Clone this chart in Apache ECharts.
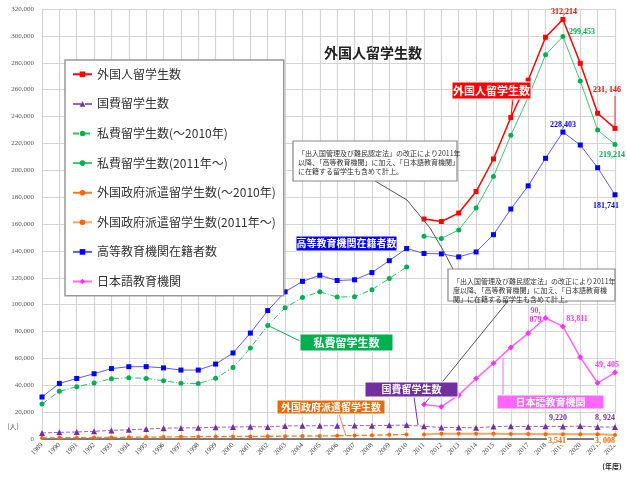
<!DOCTYPE html>
<html><head><meta charset="utf-8">
<script src="https://cdn.jsdelivr.net/npm/echarts@6/dist/echarts.min.js"></script>
<style>html,body{margin:0;padding:0;background:#fff}#c{width:627px;height:480px}</style>
</head><body><div id="c"></div>
<script>
// ---- data ----
const years = ['1989','1990','1991','1992','1993','1994','1995','1996','1997','1998','1999','2000','2001','2002','2003','2004','2005','2006','2007','2008','2009','2010','2011','2012','2013','2014','2015','2016','2017','2018','2019','2020','2021','2022'];
// 2011-2022
const totalStudents = [163697,161848,168145,184155,208379,239287,267042,298980,312214,279597,242444,231146];
// 1989-2022
const govScholarship = [4465,4961,5219,5699,6408,6880,7371,8051,8250,8323,8774,8930,9173,9009,9746,9804,9891,9869,10020,9923,10168,10349,9396,8588,8529,8351,9223,9481,9166,9423,9220,9592,8938,8924];
// 1989-2010
const privateOld = [25986,35486,38847,41762,44797,45607,45076,43370,41448,41275,45181,53181,67739,84541,97662,105298,109621,105658,105878,111106,119452,128025];
// 2011-2022
const privateNew = [150934,149260,155616,171904,195256,226006,254176,285957,299453,266405,229906,219214];
// 1989-2010
const foreignGovOld = [800,900,1000,1100,1200,1300,1400,1500,1600,1700,1800,1900,1900,2000,2100,2200,2300,2400,2600,2800,3100,3400];
// 2011-2022
const foreignGovNew = [3367,4000,4000,3900,3900,3800,3700,3600,3541,3600,3600,3008];
// 1989-2022
const higherEdu = [31251,41347,45066,48561,52405,53787,53847,52921,51298,51298,55755,64011,78812,95550,109508,117302,121812,117927,118498,123829,132720,141774,138075,137756,135519,139185,152062,171122,188384,208901,228403,218783,201877,181741];
// 2011-2022
const japaneseSchools = [25622,24092,32626,44970,56317,68165,78658,90079,83811,60814,41651,49405];
const yTickLabels = ['0','20,000','40,000','60,000','80,000','100,000','120,000','140,000','160,000','180,000','200,000','220,000','240,000','260,000','280,000','300,000','320,000'];

const names = ['外国人留学生数','国費留学生数','私費留学生数(～2010年)','私費留学生数(2011年～)','外国政府派遣留学生数(～2010年)','外国政府派遣留学生数(2011年～)','高等教育機関在籍者数','日本語教育機関'];

const N = years.length;
const late = a => new Array(N - a.length).fill(null).concat(a);
const early = a => a.concat(new Array(N - a.length).fill(null));

const CJK = '"Noto Sans CJK JP", sans-serif';
const SERIF = '"Liberation Serif", "DejaVu Serif", serif';

const chart = echarts.init(document.getElementById('c'), null, {renderer:'canvas'});

function ser(name, data, color, lineColor, lstyle, width, symbol, size) {
  return {
    name, type:'line', data, connectNulls:false,
    symbol, symbolSize:size,
    itemStyle:{color:color},
    lineStyle:{color:lineColor, type:lstyle, width:width},
    emphasis:{disabled:true}, animation:false, z:3
  };
}

const option = {
  animation:false,
  backgroundColor:'#fff',
  grid:{left:42, right:12, top:9, bottom:41, containLabel:false},
  xAxis:{
    type:'category', data:years, boundaryGap:false,
    axisLine:{show:true, lineStyle:{color:'#555', width:1.5}},
    axisTick:{show:false},
    axisLabel:{rotate:45, fontSize:7, color:'#444', fontFamily:SERIF, margin:5, interval:0},
    splitLine:{show:true, interval:0, lineStyle:{color:'#d4d4d4', width:1.2}}
  },
  yAxis:{
    type:'value', min:0, max:320000, interval:20000,
    axisLine:{show:false}, axisTick:{show:false},
    axisLabel:{fontSize:7, color:'#555', fontFamily:SERIF, margin:8,
      formatter:(v)=>yTickLabels[Math.round(v/20000)]},
    splitLine:{show:true, lineStyle:{color:'#d4d4d4', width:1.2}}
  },
  legend:{
    orient:'vertical', left:65, top:60,
    itemGap:17, itemWidth:19, itemHeight:7,
    padding:[8,8,8,7],
    backgroundColor:'#fff', borderColor:'#999', borderWidth:1.5,
    textStyle:{fontSize:12, color:'#333', fontFamily:CJK, lineHeight:12.6},
    data:names
  },
  title:{
    text:'外国人留学生数', left:368, top:41, textAlign:'center',
    textStyle:{fontSize:14, fontWeight:'bold', color:'#222', fontFamily:CJK}
  },
  series:[
    ser(names[0], late(totalStudents), '#ff0000', '#ff0000', 'solid', 1.5, 'rect', 5),
    ser(names[1], govScholarship, '#7030a0', '#9b5fd0', 'dashed', 1, 'triangle', 6),
    ser(names[2], early(privateOld), '#00b050', '#33bb66', [6,2,1,2], 1, 'circle', 5),
    ser(names[3], late(privateNew), '#00b050', '#44c070', 'solid', 1, 'circle', 5),
    ser(names[4], early(foreignGovOld), '#ff6600', '#ff7a20', 'dashed', 1.3, 'circle', 4),
    ser(names[5], late(foreignGovNew), '#ff6600', '#ffa366', 'solid', 2, 'circle', 4),
    ser(names[6], higherEdu, '#0000ff', '#5a5aff', 'solid', 1, 'rect', 5),
    ser(names[7], late(japaneseSchools), '#ff33ff', '#ff66ff', 'solid', 1.5, 'diamond', 6)
  ]
};
chart.setOption(option);

const P = (i, v) => chart.convertToPixel({xAxisIndex:0, yAxisIndex:0}, [i, v]);
const off = N - 12; // index of 2011

const g = [];
function box(x, y, w, h, text, fill, fs) {
  g.push({type:'rect', shape:{x, y, width:w, height:h}, style:{fill, stroke:'#fff', lineWidth:1}, z:20});
  g.push({type:'text', x:x + w/2, y:y + h/2, style:{text, fill:'#fff', font:`bold ${fs}px ${CJK}`, textAlign:'center', textVerticalAlign:'middle'}, z:21});
}
function line(pts, color, w) {
  g.push({type:'polyline', shape:{points:pts}, style:{stroke:color, lineWidth:w||1, fill:null}, z:15});
}
function note(x, y, w, h, lines) {
  g.push({type:'rect', shape:{x, y, width:w, height:h}, style:{fill:'#fff', stroke:'#888', lineWidth:1.2}, z:18});
  lines.forEach((t, k) => g.push({type:'text', x:x + 5, y:y + 12 + k*9.3, style:{text:t, fill:'#333', font:`7px ${CJK}`, textVerticalAlign:'middle'}, z:19}));
}
function lab(i, v, dx, dy, text, color, bg) {
  const p = P(i, v);
  g.push({type:'text', x:p[0] + dx, y:p[1] + dy, style:{text, fill:color, font:`bold 8px ${SERIF}`, textAlign:'center', textVerticalAlign:'middle', backgroundColor: bg ? '#fff' : null, padding: bg ? [0,1] : 0}, z:22});
}

// leader lines
const r2016 = P(off + 5, totalStudents[5]);
line([[513, 99], r2016], '#ff0000', 1);
const g2002 = P(13, privateOld[13]);
line([g2002, [300, 341]], '#00b050', 1);
line([[414, 397], [418, 425]], '#7030a0', 1);
line([[339, 414], [346, 436]], '#ff8a40', 1);
line([[503, 396], [503, 358]], '#ff66ff', 1);
line([[375, 181], [407, 200], [430, 228], [443, 250], [453, 269]], '#555', 1);
const j2011 = P(off, japaneseSchools[0]);
line([[508, 301], j2011], '#555', 1);
const r2022 = P(N - 1, totalStudents[11]);
line([[r2022[0], 96], r2022], '#ff0000', 0.8);

// callout boxes
box(452, 82, 79, 17, '外国人留学生数', '#ff0000', 11);
box(296, 236, 101, 15, '高等教育機関在籍者数', '#0000ff', 10);
box(300, 334, 93, 17, '私費留学生数', '#00b050', 11);
box(365, 382, 93, 15, '国費留学生数', '#7030a0', 10);
box(277, 400, 108, 14, '外国政府派遣留学生数', '#e46c0a', 10);
box(497, 395, 107, 14, '日本語教育機関', '#ff66ff', 10);

note(293, 141, 164, 40, ['「出入国管理及び難民認定法」の改正により2011年', '以降、「高等教育機関」に加え、「日本語教育機関」', 'に在籍する留学生も含めて計上。']);
note(448, 269, 167, 32, ['「出入国管理及び難民認定法」の改正により2011年', '度以降、「高等教育機関」に加え、「日本語教育機', '関」に在籍する留学生も含めて計上。']);

// data labels
lab(off + 8, totalStudents[8], 1, -8, '312,214', '#ff0000');
lab(off + 8, privateNew[8], 19, -5, '299,453', '#00b050');
lab(N - 1, totalStudents[11], -8, -38, '231, 146', '#ff0000');
lab(off + 8, higherEdu[30], 0, -7, '228,403', '#0000ff');
lab(N - 1, privateNew[11], -3, 11, '219,214', '#00b050');
lab(N - 1, higherEdu[33], -9, 11, '181,741', '#0000ff');
lab(off + 7, japaneseSchools[7], -10, -7, '90,', '#ff33ff');
lab(off + 7, japaneseSchools[7], -10, 2, '079', '#ff33ff');
lab(off + 8, japaneseSchools[8], 14, -7, '83,811', '#ff33ff');
lab(N - 1, japaneseSchools[11], -8, -8, '49, 405', '#ff33ff');
lab(30, govScholarship[30], -5, -9, '9,220', '#7030a0', true);
lab(N - 1, govScholarship[33], -10, -9, '8, 924', '#7030a0', true);
lab(off + 8, foreignGovNew[8], -6, 7, '3,541', '#e46c0a', true);
lab(N - 1, foreignGovNew[11], -10, 6, '3, 008', '#e46c0a', true);

// axis unit labels
g.push({type:'text', x:13, y:426, style:{text:'(人)', fill:'#555', font:`7px ${CJK}`, textAlign:'center', textVerticalAlign:'middle'}});
g.push({type:'text', x:612, y:466, style:{text:'(年度)', fill:'#222', font:`bold 7px ${CJK}`, textAlign:'center', textVerticalAlign:'middle'}});

chart.setOption({graphic:g});
</script>
</body></html>
